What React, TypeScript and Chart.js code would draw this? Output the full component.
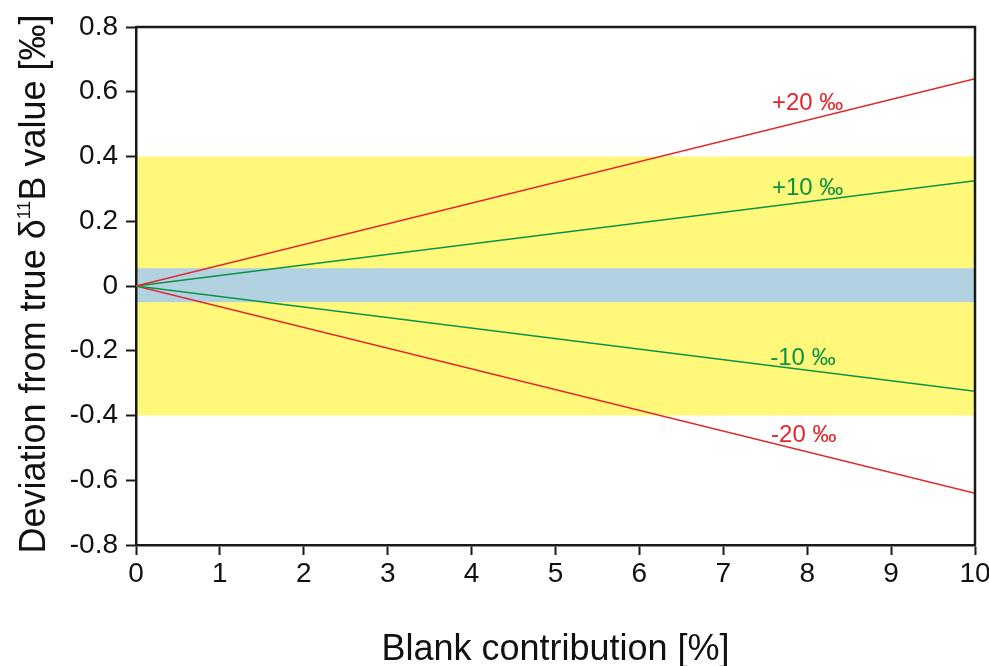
import React, { useEffect, useRef } from "react";
import { Chart, registerables } from "chart.js";

Chart.register(...registerables);

// ---- data ----
const xValues = [0, 10];
const plus20 = [0, 0.64];
const plus10 = [0, 0.325];
const minus10 = [0, -0.325];
const minus20 = [0, -0.64];

const yellowBand = [-0.4, 0.4];
const blueBand = [-0.05, 0.055];

const xTicks = [0, 1, 2, 3, 4, 5, 6, 7, 8, 9, 10];
const yTicks = [-0.8, -0.6, -0.4, -0.2, 0, 0.2, 0.4, 0.6, 0.8];

const lineLabels = ["+20 ‰", "+10 ‰", "-10 ‰", "-20 ‰"];
const lineLabelX = [7.58, 7.58, 7.56, 7.57];
const lineLabelY = [0.544, 0.281, -0.244, -0.482];

const xTitle = "Blank contribution [%]";
const yTitleParts = ["Deviation from true δ", "11", "B value [‰]"];

const RED = "#e3262b";
const GREEN = "#0a9343";
const YELLOW = "#fff87a";
const BLUE = "#b2d2e1";
const FONT = '"Liberation Sans", Arial, sans-serif';

const toPts = (ys: number[]) => ys.map((y, i) => ({ x: xValues[i], y }));

const decorPlugin = {
  id: "decor",
  beforeDraw(chart: any) {
    const { ctx, chartArea } = chart;
    const ys = chart.scales.y;
    ctx.save();
    const band = (b: number[], color: string) => {
      const top = ys.getPixelForValue(b[1]);
      const bot = ys.getPixelForValue(b[0]);
      ctx.fillStyle = color;
      ctx.fillRect(chartArea.left, top, chartArea.right - chartArea.left, bot - top);
    };
    band(yellowBand, YELLOW);
    band(blueBand, BLUE);
    ctx.restore();
  },
  afterDraw(chart: any) {
    const { ctx, chartArea } = chart;
    const xs = chart.scales.x;
    const ys = chart.scales.y;
    ctx.save();
    // frame top & right
    ctx.strokeStyle = "#1a1a1a";
    ctx.lineWidth = 2.5;
    ctx.beginPath();
    ctx.moveTo(chartArea.left, chartArea.top);
    ctx.lineTo(chartArea.right, chartArea.top);
    ctx.lineTo(chartArea.right, chartArea.bottom);
    ctx.stroke();

    // line labels
    ctx.font = `24px ${FONT}`;
    ctx.textBaseline = "alphabetic";
    ctx.textAlign = "left";
    const colors = [RED, GREEN, GREEN, RED];
    lineLabels.forEach((t, i) => {
      ctx.fillStyle = colors[i];
      ctx.fillText(t, xs.getPixelForValue(lineLabelX[i]), ys.getPixelForValue(lineLabelY[i]));
    });

    // x title
    ctx.fillStyle = "#111";
    ctx.font = `36px ${FONT}`;
    ctx.textAlign = "center";
    ctx.fillText(xTitle, (chartArea.left + chartArea.right) / 2, 660);

    // y title (rotated, with superscript)
    ctx.translate(45, 284);
    ctx.rotate(-Math.PI / 2);
    ctx.textAlign = "left";
    const big = `36px ${FONT}`;
    const small = `18px ${FONT}`;
    ctx.font = big;
    const w0 = ctx.measureText(yTitleParts[0]).width;
    const w2 = ctx.measureText(yTitleParts[2]).width;
    ctx.font = small;
    const w1 = ctx.measureText(yTitleParts[1]).width;
    const total = w0 + w1 + w2;
    let x = -total / 2;
    ctx.font = big;
    ctx.fillText(yTitleParts[0], x, 0);
    x += w0;
    ctx.font = small;
    ctx.fillText(yTitleParts[1], x, -15);
    x += w1;
    ctx.font = big;
    ctx.fillText(yTitleParts[2], x, 0);
    ctx.restore();
  },
};

export default function App() {
  const ref = useRef<HTMLCanvasElement>(null);
  useEffect(() => {
    if (!ref.current) return;
    const mk = (label: string, ys: number[], color: string) => ({
      label,
      data: toPts(ys),
      borderColor: color,
      borderWidth: 1.6,
      pointRadius: 0,
      fill: false,
      tension: 0,
    });
    const chart = new Chart(ref.current, {
      type: "line",
      data: {
        datasets: [
          mk("+20", plus20, RED),
          mk("+10", plus10, GREEN),
          mk("-10", minus10, GREEN),
          mk("-20", minus20, RED),
        ],
      },
      options: {
        responsive: false,
        animation: false,
        layout: { padding: { top: 27, right: 14, left: 0, bottom: 0 } },
        plugins: { legend: { display: false }, tooltip: { enabled: false } },
        scales: {
          x: {
            type: "linear",
            min: 0,
            max: 10,
            afterBuildTicks: (s: any) => {
              s.ticks = xTicks.map((v) => ({ value: v }));
            },
            afterFit: (s: any) => {
              s.height = 121;
              s.paddingLeft = 0;
              s.paddingRight = 0;
            },
            ticks: {
              color: "#111",
              font: { family: FONT, size: 28 },
              padding: 2,
              maxRotation: 0,
              autoSkip: false,
            },
            grid: {
              display: true,
              drawOnChartArea: false,
              drawTicks: true,
              tickLength: 10,
              tickWidth: 2,
              tickColor: "#1a1a1a",
            },
            border: { display: true, color: "#1a1a1a", width: 2.5 },
          },
          y: {
            type: "linear",
            min: -0.8,
            max: 0.8,
            afterBuildTicks: (s: any) => {
              s.ticks = yTicks.map((v) => ({ value: v }));
            },
            afterFit: (s: any) => {
              s.width = 136;
              s.paddingTop = 0;
              s.paddingBottom = 0;
            },
            ticks: {
              color: "#111",
              font: { family: FONT, size: 28 },
              padding: 8,
              autoSkip: false,
              callback: (v: any) => (Math.abs(v) < 1e-9 ? "0" : Number(v).toFixed(1)),
            },
            grid: {
              display: true,
              drawOnChartArea: false,
              drawTicks: true,
              tickLength: 10,
              tickWidth: 2,
              tickColor: "#1a1a1a",
            },
            border: { display: true, color: "#1a1a1a", width: 2.5 },
          },
        },
      },
      plugins: [decorPlugin],
    });
    return () => chart.destroy();
  }, []);
  return (
    <div style={{ position: "absolute", left: 0, top: 0 }}>
      <canvas ref={ref} width={989} height={666} style={{ display: "block" }} />
    </div>
  );
}
